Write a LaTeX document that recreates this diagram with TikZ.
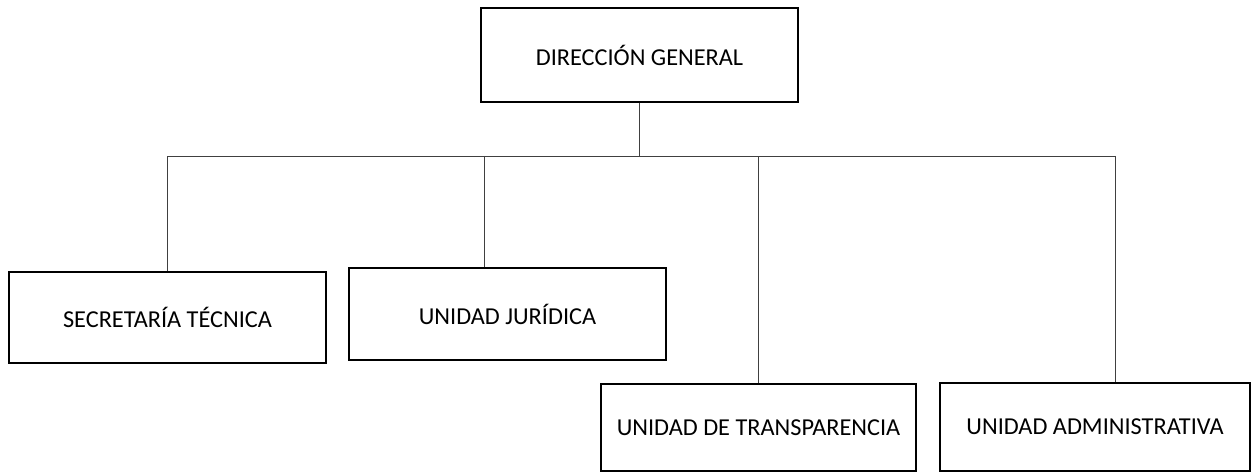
\documentclass[tikz,border=0pt]{standalone}
\usepackage{fontspec}
\setmainfont{Carlito}

\begin{document}
\begin{tikzpicture}[x=1pt,y=-1pt, every node/.style={draw,line width=1.2pt,inner sep=0pt,font=\fontsize{24.3}{28}\selectfont},
 link/.style={line width=0.7pt,black!75}]
\useasboundingbox (0,0) rectangle (1253,473);
\node[minimum width=317pt,minimum height=94pt] (dg) at (639.5,55) {DIRECCIÓN GENERAL};
\node[minimum width=317pt,minimum height=91pt] (st) at (167.5,317.5) {SECRETARÍA TÉCNICA};
\node[minimum width=317pt,minimum height=92pt] (uj) at (507.5,314) {UNIDAD JURÍDICA};
\node[minimum width=315pt,minimum height=87pt] (ut) at (758.5,427.5) {UNIDAD DE TRANSPARENCIA};
\node[minimum width=310pt,minimum height=88pt] (ua) at (1095,427) {UNIDAD ADMINISTRATIVA};
\coordinate (bl) at (167.5,156);
\coordinate (bj) at (484,156);
\coordinate (br) at (1115,156);
\draw[link] (dg) -- (dg |- bl);
\draw[link] (bl) -- (br);
\draw[link] (st) -- (bl);
\draw[link] (bj) -- (bj |- uj.north);
\draw[link] (ut) -- (ut |- bl);
\draw[link] (br) -- (br |- ua.north);
\end{tikzpicture}
\end{document}
